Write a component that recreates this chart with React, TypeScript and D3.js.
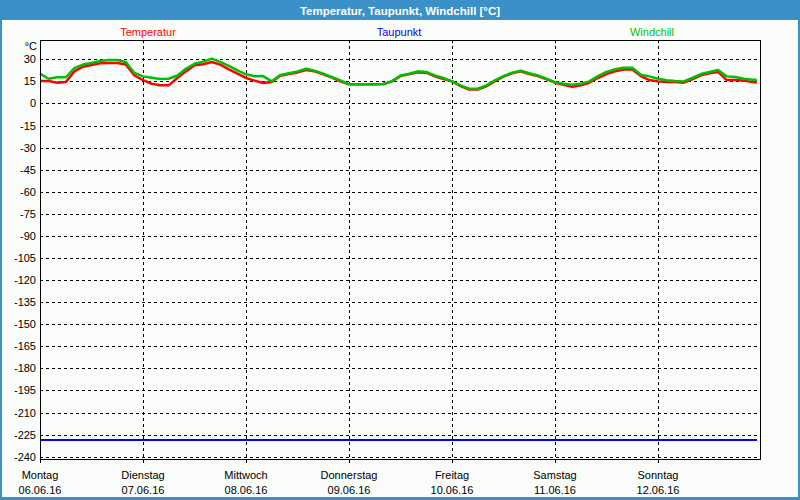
import React from 'react';
import * as d3 from 'd3';

const dayNames = ['Montag', 'Dienstag', 'Mittwoch', 'Donnerstag', 'Freitag', 'Samstag', 'Sonntag'];
const dayDates = ['06.06.16', '07.06.16', '08.06.16', '09.06.16', '10.06.16', '11.06.16', '12.06.16'];
const yTicks = [30, 15, 0, -15, -30, -45, -60, -75, -90, -105, -120, -135, -150, -165, -180, -195, -210, -225, -240];
const legendLabels = ['Temperatur', 'Taupunkt', 'Windchill'];
const titleText = 'Temperatur, Taupunkt, Windchill [°C]';
const unitLabel = '°C';

// hours since Montag 00:00
const hours = [
  0, 2, 4, 6, 8, 10, 12, 14, 16, 18, 20, 22,
  24, 26, 28, 30, 32, 34, 36, 38, 40, 42, 44, 46,
  48, 50, 52, 54, 56, 58, 60, 62, 64, 66, 68, 70,
  72, 74, 76, 78, 80, 82, 84, 86, 88, 90, 92, 94,
  96, 98, 100, 102, 104, 106, 108, 110, 112, 114, 116, 118,
  120, 122, 124, 126, 128, 130, 132, 134, 136, 138, 140, 142,
  144, 146, 148, 150, 152, 154, 156, 158, 160, 162, 164, 166, 167,
];
const temperatur = [
  15.3, 15.2, 14.1, 14.5, 21.8, 25, 26.1, 27.3, 27.5, 27.5, 26.4, 19,
  15.9, 13.4, 12.3, 12.3, 17.3, 21.8, 25.9, 26.6, 28.2, 26.4, 23.2, 20.2,
  17.3, 15.5, 13.9, 14.5, 18.8, 20, 21.1, 22.7, 21.8, 19.8, 17.5, 15,
  13, 13, 13, 13, 13.2, 15, 18.6, 19.8, 21.1, 20.9, 18.4, 16.6,
  15, 11.8, 9.5, 9.5, 11.6, 15.2, 18.2, 20.5, 21.8, 20, 18.6, 16.4,
  14.1, 12.7, 11.4, 12.3, 14.1, 17.3, 20, 21.8, 23, 23, 18.6, 15.9,
  15, 14.5, 14.5, 14.1, 16.4, 19.1, 20.5, 21.4, 15.9, 15.9, 15.5, 14.5, 14.3,
];
const windchill = [
  20.3, 16.8, 17.8, 17.8, 24, 26.4, 27.5, 28.9, 29.5, 29.5, 28.2, 20.7,
  18.4, 17.5, 16.6, 16.8, 19, 23.6, 27, 28.4, 30.5, 28.2, 25.5, 22.5,
  19.8, 18.5, 18.6, 15, 19.3, 20.5, 21.8, 23.6, 22.3, 20.2, 18, 15.7,
  13, 13, 13, 13, 13.2, 15, 19, 20.2, 21.8, 21.4, 19.1, 17.3,
  15, 12.3, 10, 10, 12.3, 15.7, 18.6, 20.9, 22.3, 20.5, 19.1, 16.8,
  14.5, 13.4, 12.7, 13.4, 15, 18.6, 21.4, 23.2, 24.3, 24.3, 19.5, 18.4,
  16.8, 15.7, 15.2, 15, 17.3, 20, 21.4, 22.7, 18.4, 18, 16.8, 16.1, 16.1,
];
const taupunktHours = [0, 167];
const taupunkt = [-228.9, -228.9];

const FONT = '"Liberation Sans", Arial, sans-serif';
const FRAME_BLUE = '#3c90c8';
const BG = '#fafcfa';
const RED = '#ff0000';
const BLUE = '#0000ff';
const GREEN = '#00c000';

export default function App() {
  const W = 800;
  const H = 500;
  const plotLeft = 40;
  const plotRight = 760;
  const plotTop = 40;
  const plotBottom = 459;

  const x = d3.scaleLinear().domain([0, 168]).range([40, 761]);
  const y = d3.scaleLinear().domain([-240, 30]).range([456.7, 59.3]);
  const px = (v: number) => Math.round(v) + 0.5;

  const mkLine = (hs: number[], vs: number[]) =>
    d3.line<number>().x((_, i) => x(hs[i])).y((v) => y(v))(vs) || '';

  const dayHours = dayNames.map((_, i) => i * 24);

  return (
    <svg width={W} height={H} style={{ position: 'absolute', left: 0, top: 0 }} fontFamily={FONT}>
      <rect x={0} y={0} width={W} height={H} fill={BG} />
      {/* frame */}
      <rect x={0} y={0} width={W} height={20} fill={FRAME_BLUE} />
      <rect x={0} y={0} width={2} height={H} fill={FRAME_BLUE} />
      <rect x={W - 2} y={0} width={2} height={H} fill={FRAME_BLUE} />
      <rect x={0} y={H - 3} width={W} height={3} fill={FRAME_BLUE} />
      <text x={W / 2} y={15} textAnchor="middle" fill="#ffffff" fontWeight="bold" fontSize={11.5}>
        {titleText}
      </text>

      {/* legend */}
      {[RED, BLUE, GREEN].map((c, i) => (
        <text key={i} x={[148, 399, 652][i]} y={36} textAnchor="middle" fill={c} fontSize={11}>
          {legendLabels[i]}
        </text>
      ))}

      {/* horizontal grid */}
      {yTicks.map((t) => (
        <line key={'h' + t} x1={plotLeft} x2={plotRight} y1={px(y(t))} y2={px(y(t))}
          stroke="#000" strokeWidth={1} strokeDasharray="3,3" shapeRendering="crispEdges" />
      ))}
      {/* vertical grid */}
      {dayHours.slice(1).map((h) => (
        <line key={'v' + h} x1={px(x(h))} x2={px(x(h))} y1={plotTop} y2={plotBottom}
          stroke="#000" strokeWidth={1} strokeDasharray="3,3" shapeRendering="crispEdges" />
      ))}

      {/* y labels */}
      <text x={37} y={50} textAnchor="end" fontSize={11} fill="#000">{unitLabel}</text>
      {yTicks.map((t) => (
        <text key={'yl' + t} x={36} y={y(t) + 4} textAnchor="end" fontSize={11} fill="#000">{t}</text>
      ))}

      {/* series */}
      <path d={mkLine(hours, temperatur)} fill="none" stroke={RED} strokeWidth={2.5} strokeLinejoin="round" />
      <path d={mkLine(hours, windchill)} fill="none" stroke={GREEN} strokeWidth={2.5} strokeLinejoin="round" />
      <path d={mkLine(taupunktHours, taupunkt)} fill="none" stroke={BLUE} strokeWidth={2} shapeRendering="crispEdges" />

      {/* plot frame */}
      <rect x={plotLeft + 0.5} y={plotTop + 0.5} width={plotRight - plotLeft} height={plotBottom - plotTop}
        fill="none" stroke="#000" strokeWidth={1} shapeRendering="crispEdges" />
      {/* x ticks */}
      {dayHours.map((h) => (
        <line key={'xt' + h} x1={px(x(h))} x2={px(x(h))} y1={plotBottom} y2={plotBottom + 4}
          stroke="#000" strokeWidth={1} shapeRendering="crispEdges" />
      ))}

      {/* x labels */}
      {dayHours.map((h, i) => (
        <g key={'xl' + h}>
          <text x={x(h)} y={479} textAnchor="middle" fontSize={11} fill="#000">{dayNames[i]}</text>
          <text x={x(h)} y={494} textAnchor="middle" fontSize={11} fill="#000">{dayDates[i]}</text>
        </g>
      ))}
    </svg>
  );
}
